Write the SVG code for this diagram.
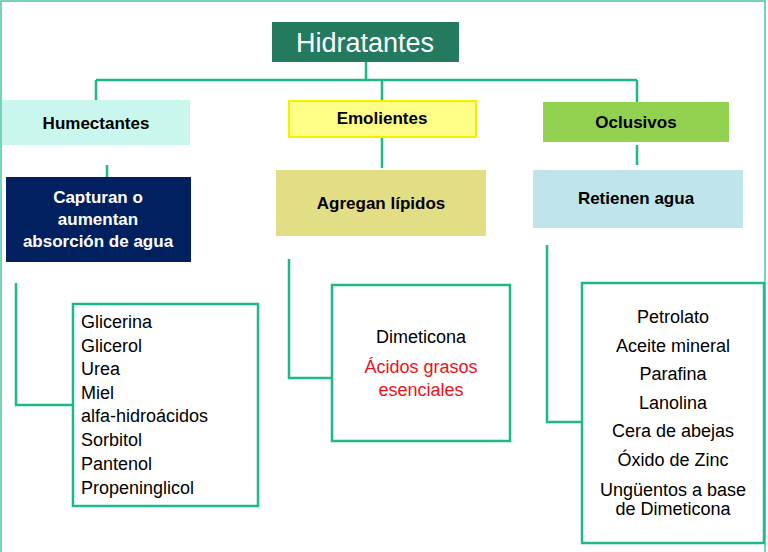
<svg xmlns="http://www.w3.org/2000/svg" width="768" height="552" viewBox="0 0 768 552">
<style>
.c{fill:none;stroke:#1fb88a;stroke-width:2.5}
.b{font-family:"Liberation Sans",Arial,sans-serif;font-weight:bold;font-size:17px;text-anchor:middle}
.t{font-family:"Liberation Sans",Arial,sans-serif;font-size:18px}
.m{text-anchor:middle}
.box{fill:#fff;stroke:#1fb88a;stroke-width:2.5}
</style>
<rect x="0" y="0" width="768" height="552" fill="#fff"/>
<rect x="1" y="1" width="764" height="560" fill="none" stroke="#4cc3a0" stroke-width="1.5"/>
<g id="connectors">
<path class="c" d="M366 61V80M96 80H637M96 80V100M382 80V100M637 80V102"/>
<path class="c" d="M107 165V183M382 137V168M637 145V165"/>
<path class="c" d="M16 283V405H73M289 259V378H332M547 245V422H582"/>
</g>
<g id="hidratantes"><rect x="272" y="22" width="187" height="40" fill="#237a5f"/><text x="365" y="52" font-family="Liberation Sans,Arial,sans-serif" font-size="27" fill="#fff" text-anchor="middle">Hidratantes</text></g>
<g id="humectantes"><rect x="2" y="100" width="188" height="45" fill="#c9f7ee"/><text class="b" x="96" y="129">Humectantes</text></g>
<g id="emolientes"><rect x="289" y="101" width="187" height="36" fill="#ffff88" stroke="#f5ef00" stroke-width="2"/><text class="b" x="382" y="124">Emolientes</text></g>
<g id="oclusivos"><rect x="543" y="102" width="186" height="40" fill="#92d050"/><text class="b" x="636" y="128">Oclusivos</text></g>
<g id="capturan"><rect x="6" y="177" width="185" height="85" fill="#002060"/><text class="b" fill="#fff" x="98" y="203">Capturan o</text><text class="b" fill="#fff" x="98" y="225">aumentan</text><text class="b" fill="#fff" x="98" y="247">absorción de agua</text></g>
<g id="agregan"><rect x="276" y="170" width="210" height="66" fill="#e2de86"/><text class="b" x="381" y="209">Agregan lípidos</text></g>
<g id="retienen"><rect x="533" y="170" width="210" height="58" fill="#bfe4ea"/><text class="b" x="636" y="204">Retienen agua</text></g>
<g id="lista1"><rect class="box" x="73" y="304" width="185" height="202"/>
<text class="t" x="81" y="328">Glicerina</text><text class="t" x="81" y="352">Glicerol</text><text class="t" x="81" y="375">Urea</text><text class="t" x="81" y="399">Miel</text><text class="t" x="81" y="422">alfa-hidroácidos</text><text class="t" x="81" y="446">Sorbitol</text><text class="t" x="81" y="470">Pantenol</text><text class="t" x="81" y="494">Propeninglicol</text></g>
<g id="lista2"><rect class="box" x="332" y="285" width="178" height="156"/>
<text class="t m" x="421" y="343">Dimeticona</text><text class="t m" x="421" y="373" fill="#e8141c">Ácidos grasos</text><text class="t m" x="421" y="396" fill="#e8141c">esenciales</text></g>
<g id="lista3"><rect class="box" x="582" y="283" width="182" height="260"/>
<text class="t m" x="673" y="323">Petrolato</text><text class="t m" x="673" y="352">Aceite mineral</text><text class="t m" x="673" y="380">Parafina</text><text class="t m" x="673" y="409">Lanolina</text><text class="t m" x="673" y="437">Cera de abejas</text><text class="t m" x="673" y="466">Óxido de Zinc</text><text class="t m" x="673" y="496">Ungüentos a base</text><text class="t m" x="673" y="515">de Dimeticona</text></g>
</svg>
